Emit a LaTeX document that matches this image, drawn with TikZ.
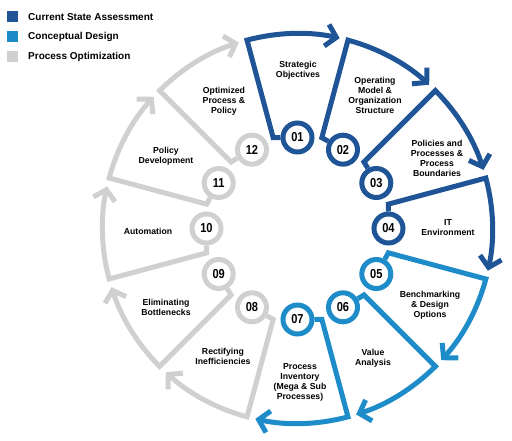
\documentclass[tikz,border=0pt]{standalone}
\usepackage{fontspec}
\setmainfont{Liberation Sans}
\newfontfamily\numfont[FakeStretch=0.85]{Liberation Sans}
\usetikzlibrary{arrows.meta}
\definecolor{csablue}{RGB}{31,84,150}
\definecolor{cdblue}{RGB}{30,140,200}
\definecolor{pogray}{RGB}{208,208,210}

\begin{document}
\begin{tikzpicture}[x=1pt, y=1pt,
  num/.style={circle, draw, line width=5pt, fill=white, minimum size=29pt,
    inner sep=0pt, font=\numfont\bfseries\fontsize{13}{13}\selectfont},
  seg/.style={line width=5pt, -{Straight Barb[length=10pt,width=22pt]}},
  lbl/.style={align=center, font=\bfseries\fontsize{8.7}{10}\selectfont},
  key/.style={minimum size=11pt, inner sep=0pt},
  keytext/.style={anchor=west, inner sep=0pt, font=\bfseries\fontsize{10}{12}\selectfont}
]
\useasboundingbox (-297.5,-212.5) rectangle (214.5,228.5);

% legend
\node[key, fill=csablue] (k1) at (-284.5,211.5) {};
\node[key, fill=cdblue] (k2) at (-284.5,191.5) {};
\node[key, fill=pogray] (k3) at (-284.5,171.5) {};
\node[keytext] at (-269.5,211.5) {Current State Assessment};
\node[keytext] at (-269.5,191.5) {Conceptual Design};
\node[keytext] at (-269.5,171.5) {Process Optimization};

% numbered circles
\node[num, draw=csablue] (c01) at (90:91) {01};
\node[num, draw=csablue] (c02) at (60:91) {02};
\node[num, draw=csablue] (c03) at (30:91) {03};
\node[num, draw=csablue] (c04) at (0:91) {04};
\node[num, draw=cdblue] (c05) at (-30:91) {05};
\node[num, draw=cdblue] (c06) at (-60:91) {06};
\node[num, draw=cdblue] (c07) at (-90:91) {07};
\node[num, draw=pogray] (c08) at (-120:91) {08};
\node[num, draw=pogray] (c09) at (-150:91) {09};
\node[num, draw=pogray] (c10) at (180:91) {10};
\node[num, draw=pogray] (c11) at (150:91) {11};
\node[num, draw=pogray] (c12) at (120:91) {12};

% segments
\draw[seg, csablue] (c01.180) -- (105:94) -- (105:195) arc[start angle=105, end angle=77.5, radius=195];
\draw[seg, csablue] (c02.150) -- (75:94) -- (75:195) arc[start angle=75, end angle=47.5, radius=195];
\draw[seg, csablue] (c03.120) -- (45:94) -- (45:195) arc[start angle=45, end angle=17.5, radius=195];
\draw[seg, csablue] (c04.90) -- (15:94) -- (15:195) arc[start angle=15, end angle=-12.5, radius=195];
\draw[seg, cdblue] (c05.60) -- (-15:94) -- (-15:195) arc[start angle=-15, end angle=-42.5, radius=195];
\draw[seg, cdblue] (c06.30) -- (-45:94) -- (-45:195) arc[start angle=-45, end angle=-72.5, radius=195];
\draw[seg, cdblue] (c07.0) -- (-75:94) -- (-75:195) arc[start angle=-75, end angle=-102.5, radius=195];
\draw[seg, pogray] (c08.330) -- (-105:94) -- (-105:195) arc[start angle=-105, end angle=-132.5, radius=195];
\draw[seg, pogray] (c09.300) -- (-135:94) -- (-135:195) arc[start angle=-135, end angle=-162.5, radius=195];
\draw[seg, pogray] (c10.270) -- (-165:94) -- (-165:195) arc[start angle=-165, end angle=-192.5, radius=195];
\draw[seg, pogray] (c11.240) -- (165:94) -- (165:195) arc[start angle=165, end angle=137.5, radius=195];
\draw[seg, pogray] (c12.210) -- (135:94) -- (135:195) arc[start angle=135, end angle=107.5, radius=195];

% labels
\node[lbl] (l01) at (0.5,158.5) {Strategic\\Objectives};
\node[lbl] (l02) at (77.5,133.5) {Operating\\Model \&\\Organization\\Structure};
\node[lbl] (l03) at (139.5,70.5) {Policies and\\Processes \&\\Process\\Boundaries};
\node[lbl] (l04) at (150.5,0.5) {IT\\Environment};
\node[lbl] (l05) at (132.5,-76.5) {Benchmarking\\\& Design\\Options};
\node[lbl] (l06) at (75.5,-129.5) {Value\\Analysis};
\node[lbl] (l07) at (2.5,-153.5) {Process\\Inventory\\(Mega \& Sub\\Processes)};
\node[lbl] (l08) at (-74.5,-127.5) {Rectifying\\Inefficiencies};
\node[lbl] (l09) at (-131.5,-78.5) {Eliminating\\Bottlenecks};
\node[lbl] (l10) at (-149.5,-2.5) {Automation};
\node[lbl] (l11) at (-131.5,72.5) {Policy\\Development};
\node[lbl] (l12) at (-73.5,127.5) {Optimized\\Process \&\\Policy};
\end{tikzpicture}
\end{document}
